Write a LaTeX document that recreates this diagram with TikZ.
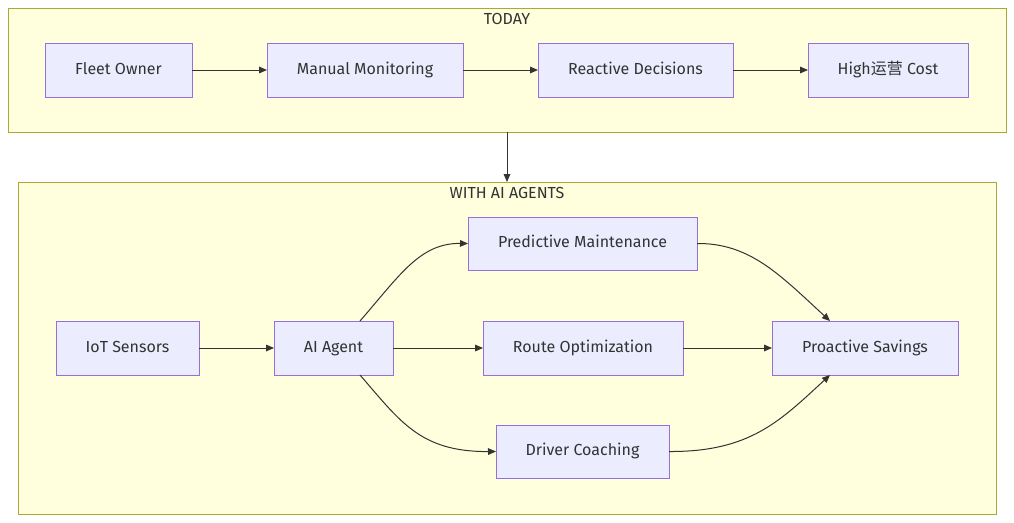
\documentclass[tikz,border=0pt]{standalone}
\usepackage{fontspec}
\setmainfont{Fira Sans}
\newfontfamily\cjk{Noto Sans CJK SC}
\usetikzlibrary{arrows.meta}
\definecolor{cf}{HTML}{FFFFDE}\definecolor{cs}{HTML}{AAAA33}
\definecolor{nf}{HTML}{ECECFF}\definecolor{ns}{HTML}{9370DB}
\definecolor{tx}{HTML}{333333}
\begin{document}
\begin{tikzpicture}[x=0.75pt,y=-0.75pt,
 cl/.style={draw=cs,fill=cf,line width=0.75pt},
 nd/.style={draw=ns,fill=nf,line width=0.75pt},
 lb/.style={text=tx,font=\fontsize{12}{14}\selectfont,text height=8.5pt,text depth=2.5pt},
 ar/.style={draw=tx,line width=0.75pt,-{Triangle[length=6pt,width=5pt]}}]
\useasboundingbox (0,0) rectangle (1014,522);
\draw[cl] (8,8) rectangle (1006,132);
\node[lb] (t1) at (507,20) {TODAY};
\draw[cl] (18,182) rectangle (996,514);
\node[lb] (t2) at (507,194) {WITH AI AGENTS};
\coordinate (c1) at (507,132); \coordinate (c2) at (507,182);
\newcommand{\bx}[6]{\draw[nd] (#2,#3) rectangle (#4,#5); \node[lb] (#1) at ({(#2+#4)/2},{(#3+#5)/2}) {#6};
 \coordinate (#1w) at (#2,{(#3+#5)/2}); \coordinate (#1e) at (#4,{(#3+#5)/2});}
\bx{fo}{45}{43}{192}{97}{Fleet Owner}
\bx{mm}{267}{43}{463}{97}{Manual Monitoring}
\bx{rd}{538}{43}{733}{97}{Reactive Decisions}
\bx{hc}{808}{43}{968}{97}{High{\cjk 运营} Cost}
\bx{io}{56}{321}{199}{375}{IoT Sensors}
\bx{ai}{274}{321}{393}{375}{AI Agent}
\bx{pm}{468}{217}{697}{270}{Predictive Maintenance}
\bx{ro}{483}{321}{683}{375}{Route Optimization}
\bx{dc}{496}{425}{669}{478}{Driver Coaching}
\bx{ps}{772}{321}{958}{375}{Proactive Savings}
\coordinate (ait) at (360,321); \coordinate (aib) at (360,375);
\coordinate (pst) at (830,321); \coordinate (psb) at (830,375);
\draw[ar] (foe)--(mmw); \draw[ar] (mme)--(rdw); \draw[ar] (rde)--(hcw);
\draw[ar] (c1)--(c2);
\draw[ar] (ioe)--(aiw); \draw[ar] (aie)--(row); \draw[ar] (roe)--(psw);
\draw[ar] (ait) .. controls (400,275) and (420,243) .. (pmw);
\draw[ar] (aib) .. controls (400,421) and (420,452) .. (dcw);
\draw[ar] (pme) .. controls (750,243) and (780,275) .. (pst);
\draw[ar] (dce) .. controls (750,452) and (780,421) .. (psb);
\end{tikzpicture}
\end{document}
